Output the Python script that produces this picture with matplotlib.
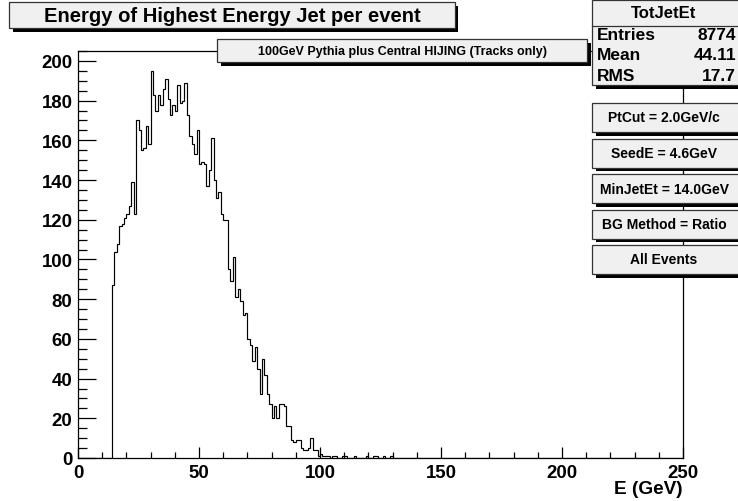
import numpy as np
import matplotlib
matplotlib.use("Agg")
import matplotlib.pyplot as plt
from matplotlib.patches import Rectangle
from matplotlib.ticker import MultipleLocator

# ----------------------------
# Data
# ----------------------------
# 1 GeV bins from 0 to 250, nothing below the MinJetEt cut
x_min, x_max, n_bins = 0, 250, 250
first_bin = 14
counts = [
    87, 104, 108, 117, 118, 121, 123, 127, 139, 123,   # 14-23
    170, 165, 155, 156, 167, 158, 195, 183, 175, 183,  # 24-33
    178, 186, 191, 181, 173, 178, 175, 188, 179, 180,  # 34-43
    189, 173, 162, 158, 153, 165, 148, 149, 148, 137,  # 44-53
    145, 161, 140, 131, 134, 123, 120, 120, 95, 89,    # 54-63
    101, 81, 85, 79, 72, 73, 60, 57, 49, 56,           # 64-73
    45, 32, 50, 42, 32, 27, 20, 26, 20, 27,            # 74-83
    27, 26, 16, 16, 9, 8, 9, 9, 5, 4,                  # 84-93
    4, 5, 10, 4, 4, 1, 2, 1, 1, 1,                     # 94-103
    0, 1, 1, 0, 0, 1, 1, 0, 0, 0,                      # 104-113
    1, 0, 0, 0, 0, 1, 0, 0, 1, 1,                      # 114-123
    0, 0, 1, 0, 0, 1,                                  # 124-129
]

title = "Energy of Highest Energy Jet per event"
legend_text = "100GeV Pythia plus Central HIJING (Tracks only)"
stats_name = "TotJetEt"
stats_labels = ["Entries", "Mean", "RMS"]
stats_values = ["8774", "44.11", "17.7"]
cut_labels = ["PtCut = 2.0GeV/c", "SeedE = 4.6GeV", "MinJetEt = 14.0GeV",
              "BG Method = Ratio", "All Events"]
x_label = "E (GeV)"

# ----------------------------
# Figure / axes
# ----------------------------
W, H = 738, 502
FONT = "Liberation Sans"
plt.rcParams["font.family"] = [FONT, "DejaVu Sans"]
plt.rcParams["font.weight"] = "bold"

fig = plt.figure(figsize=(W / 100, H / 100), dpi=100)
ax = fig.add_axes([78 / W, 1 - 459 / H, (683 - 78) / W, (459 - 52) / H])

full = np.zeros(n_bins)
full[first_bin:first_bin + len(counts)] = counts
edges = np.linspace(x_min, x_max, n_bins + 1)
ax.stairs(full, edges, color="black", lw=0.85)

ax.set_xlim(x_min, x_max)
ax.set_ylim(0, 205)
ax.xaxis.set_major_locator(MultipleLocator(50))
ax.xaxis.set_minor_locator(MultipleLocator(10))
ax.yaxis.set_major_locator(MultipleLocator(20))
ax.yaxis.set_minor_locator(MultipleLocator(5))
ax.tick_params(axis="x", which="major", direction="in", length=8, width=0.9,
               pad=4, labelsize=13.4)
ax.tick_params(axis="x", which="minor", direction="in", length=4.2, width=0.9)
ax.tick_params(axis="y", which="major", direction="in", length=13, width=0.9,
               pad=4, labelsize=13.4)
ax.tick_params(axis="y", which="minor", direction="in", length=6.5, width=0.9)
for lab in ax.get_xticklabels() + ax.get_yticklabels():
    lab.set_fontweight("bold")
for s in ax.spines.values():
    s.set_linewidth(0.9)

fig.text(683 / W, 1 - 490 / H, x_label, ha="right", va="center",
         fontsize=13.7, fontweight="bold")


# ----------------------------
# ROOT style paves (pixel coords, origin top-left)
# ----------------------------
def pave(x0, y0, x1, y1, shadow=3.5):
    fig.patches.append(Rectangle((x0 / W + shadow / W, 1 - (y1 + shadow) / H),
                                 (x1 - x0) / W, (y1 - y0) / H,
                                 transform=fig.transFigure, facecolor="black",
                                 edgecolor="none", zorder=10))
    fig.patches.append(Rectangle((x0 / W, 1 - y1 / H), (x1 - x0) / W, (y1 - y0) / H,
                                 transform=fig.transFigure, facecolor="#f0f0f0",
                                 edgecolor="#333333", lw=0.9, zorder=11))


def ptext(x, y, s, size, ha="center"):
    fig.text(x / W, 1 - y / H, s, ha=ha, va="center", fontsize=size,
             fontweight="bold", zorder=12)


# title
pave(9, 3, 455, 29)
ptext(232, 16, title, 14.5)

# legend
pave(217, 40, 587, 63)
ptext(402, 51.5, legend_text, 9)

# stats box
pave(592, 0.5, 740, 86)
fig.lines.append(plt.Line2D([592 / W, 1], [1 - 27 / H, 1 - 27 / H],
                            transform=fig.transFigure, color="#333333",
                            lw=0.9, zorder=12))
ptext(664, 13.5, stats_name, 12)
for i, (lab, val) in enumerate(zip(stats_labels, stats_values)):
    y = 35.5 + i * 20.5
    ptext(597, y, lab, 12.5, ha="left")
    ptext(736, y, val, 12.5, ha="right")

# cut boxes
for i, lab in enumerate(cut_labels):
    top = 104 + i * 35.5
    pave(592, top, 740, top + 29)
    ptext(664, top + 14.5, lab, 10)

fig.savefig("out.png", dpi=100)
